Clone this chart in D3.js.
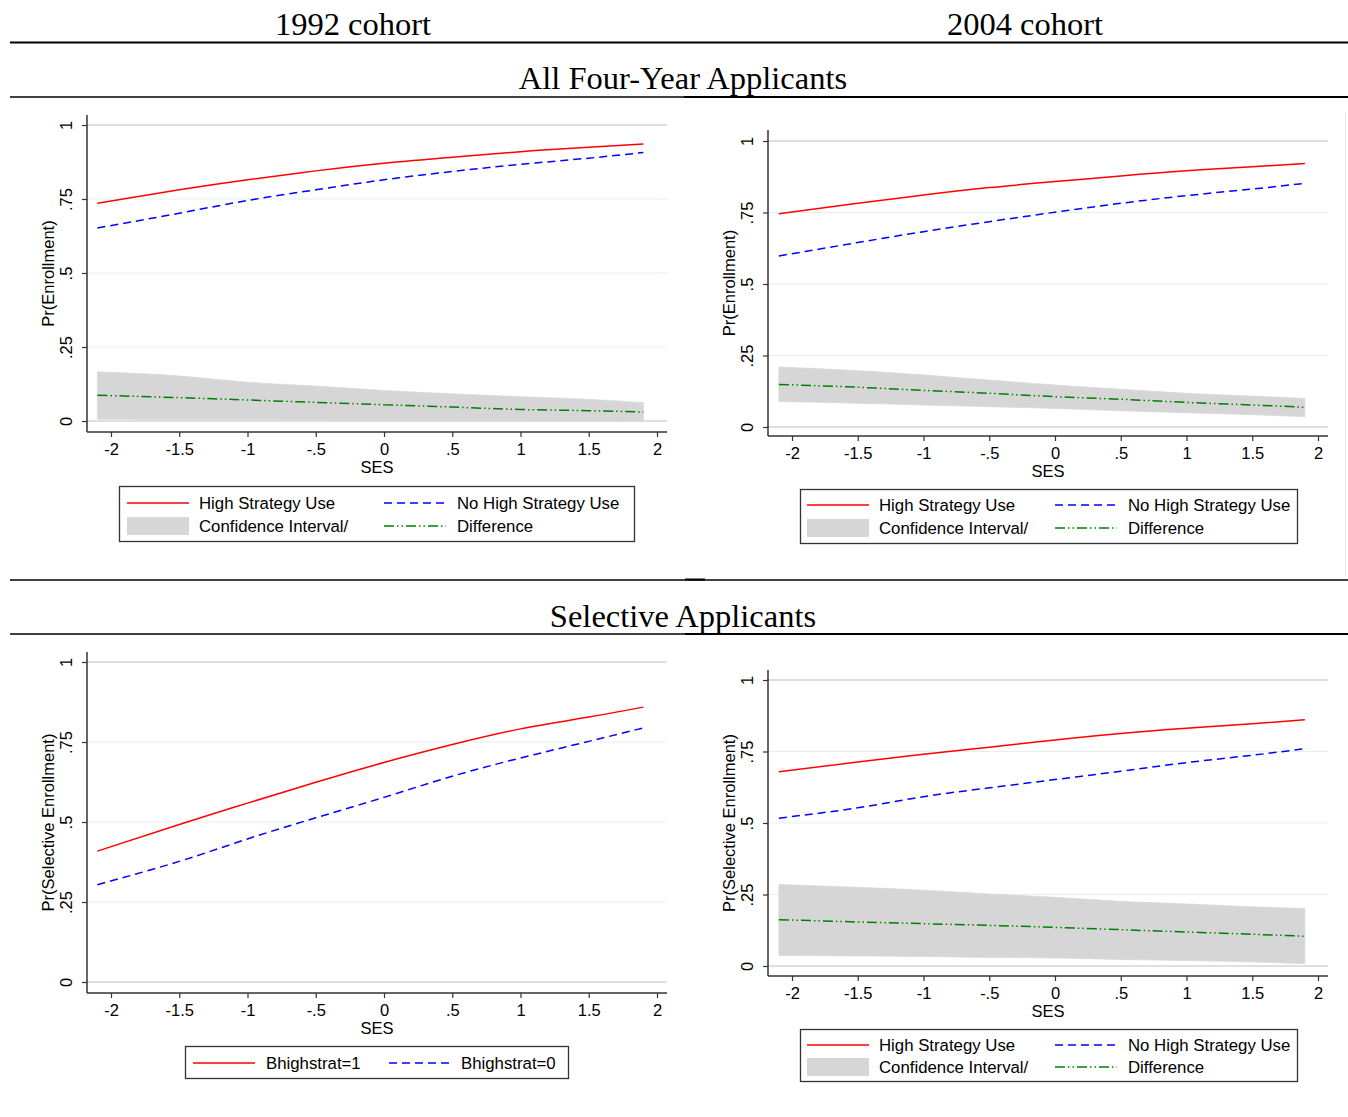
<!DOCTYPE html>
<html>
<head>
<meta charset="utf-8">
<script src="https://cdn.jsdelivr.net/npm/d3@7"></script>
<style>
  body { margin: 0; background: #fff; }
  svg { display: block; }
  text { font-family: "Liberation Sans", Arial, sans-serif; fill: #000; }
  .head { font-family: "Liberation Serif", "Times New Roman", serif; font-size: 32.5px; }
</style>
</head>
<body>
<script>

// SES values at which the predictions are plotted
const ses = [-2.1, -1.5, -1, -0.5, 0, 0.5, 1, 1.5, 1.9];

const xTicks = [-2, -1.5, -1, -0.5, 0, 0.5, 1, 1.5, 2];
const xTickLabels = ["-2", "-1.5", "-1", "-.5", "0", ".5", "1", "1.5", "2"];
const yTicks = [0, 0.25, 0.5, 0.75, 1];
const yTickLabels = ["0", ".25", ".5", ".75", "1"];

// All four-year applicants, 1992 cohort
const all92High = [0.736, 0.781, 0.815, 0.845, 0.871, 0.891, 0.910, 0.925, 0.936];
const all92No   = [0.652, 0.702, 0.745, 0.781, 0.815, 0.843, 0.867, 0.888, 0.907];
const all92Diff = [0.087, 0.079, 0.071, 0.063, 0.055, 0.047, 0.039, 0.035, 0.030];
const all92CiHi = [0.166, 0.152, 0.131, 0.118, 0.103, 0.092, 0.082, 0.073, 0.062];
const all92CiLo = [0.006, 0.005, 0.004, 0.003, 0.002, 0.001, 0.000, -0.001, -0.002];

// All four-year applicants, 2004 cohort
const all04High = [0.746, 0.782, 0.811, 0.837, 0.858, 0.878, 0.896, 0.910, 0.921];
const all04No   = [0.598, 0.645, 0.683, 0.718, 0.751, 0.782, 0.809, 0.832, 0.852];
const all04Diff = [0.149, 0.139, 0.128, 0.118, 0.106, 0.097, 0.086, 0.077, 0.069];
const all04CiHi = [0.210, 0.197, 0.182, 0.164, 0.147, 0.132, 0.118, 0.108, 0.100];
const all04CiLo = [0.089, 0.083, 0.077, 0.071, 0.065, 0.057, 0.050, 0.043, 0.036];

// Selective applicants, 1992 cohort
const sel92High = [0.409, 0.492, 0.559, 0.624, 0.686, 0.742, 0.791, 0.828, 0.859];
const sel92No   = [0.304, 0.377, 0.447, 0.513, 0.577, 0.643, 0.700, 0.752, 0.794];

// Selective applicants, 2004 cohort
const sel04High = [0.679, 0.713, 0.740, 0.765, 0.790, 0.813, 0.831, 0.847, 0.861];
const sel04No   = [0.517, 0.553, 0.592, 0.623, 0.652, 0.681, 0.711, 0.737, 0.760];
const sel04Diff = [0.162, 0.154, 0.148, 0.142, 0.135, 0.127, 0.119, 0.111, 0.104];
const sel04CiHi = [0.285, 0.275, 0.265, 0.252, 0.240, 0.226, 0.217, 0.207, 0.201];
const sel04CiLo = [0.037, 0.035, 0.033, 0.030, 0.028, 0.023, 0.019, 0.014, 0.008];

const fourLegend = ["High Strategy Use", "No High Strategy Use", "Confidence Interval/", "Difference"];
const twoLegend = ["Bhighstrat=1", "Bhighstrat=0"];

const width = 1348;
const height = 1117;

const svg = d3.select("body").append("svg")
  .attr("width", width)
  .attr("height", height);

svg.append("rect").attr("width", width).attr("height", height).attr("fill", "#fff");

const styles = {
  high: { stroke: "#ff0000", dash: null },
  no:   { stroke: "#0000ff", dash: "8,5" },
  diff: { stroke: "#008000", dash: "10,3,1.5,3,1.5,3" }
};

// ---- header rules and titles ----
function rule(x1, x2, y, w) {
  svg.append("line")
    .attr("x1", x1).attr("x2", x2).attr("y1", y).attr("y2", y)
    .attr("stroke", "#000").attr("stroke-width", w);
}

svg.append("text").attr("class", "head").attr("x", 353).attr("y", 35)
  .attr("text-anchor", "middle").text("1992 cohort");
svg.append("text").attr("class", "head").attr("x", 1025).attr("y", 35)
  .attr("text-anchor", "middle").text("2004 cohort");
rule(10, 1348, 42.5, 2);

svg.append("text").attr("class", "head").attr("x", 683).attr("y", 89)
  .attr("text-anchor", "middle").text("All Four-Year Applicants");
rule(10, 684, 97, 1.3);
rule(684, 1348, 97, 2);

rule(10, 1348, 580, 1.3);
rule(685, 705, 579.5, 2);
svg.append("text").attr("class", "head").attr("x", 683).attr("y", 627)
  .attr("text-anchor", "middle").text("Selective Applicants");
rule(10, 685, 634, 1.3);
rule(685, 1348, 634, 2);

// faint edge of the right-hand graph region
svg.append("line")
  .attr("x1", 1345.5).attr("x2", 1345.5).attr("y1", 112).attr("y2", 578)
  .attr("stroke", "#ececec").attr("stroke-width", 1);

// ---- one Stata-like panel ----
function panel(p) {
  const g = svg.append("g");

  const x = d3.scaleLinear().domain([-2, 2]).range([p.xm2, p.xp2]);
  const y = d3.scaleLinear().domain([0, 1]).range([p.y0, p.y1]);

  // gridlines
  g.append("g").selectAll("line")
    .data(yTicks)
    .enter().append("line")
    .attr("x1", p.left).attr("x2", p.right)
    .attr("y1", (d) => y(d)).attr("y2", (d) => y(d))
    .attr("stroke", (d) => (d === 0 || d === 1) ? "#d4d4d4" : "#e8efef")
    .attr("stroke-width", (d) => (d === 0 || d === 1) ? 1.6 : 1.2);

  const rows = ses.map((s, i) => ({ s: s, i: i }));

  if (p.ciHi) {
    const area = d3.area()
      .x((d) => x(d.s))
      .y0((d) => y(p.ciLo[d.i]))
      .y1((d) => y(p.ciHi[d.i]))
      .curve(d3.curveNatural);
    g.append("path")
      .datum(rows)
      .attr("d", area)
      .attr("fill", "#d6d6d6")
      .attr("stroke", "#d9d9d9")
      .attr("stroke-width", 0.8);
  }

  p.series.forEach((sr) => {
    const line = d3.line()
      .x((d) => x(d.s))
      .y((d) => y(sr.values[d.i]))
      .curve(d3.curveNatural);
    g.append("path")
      .datum(rows)
      .attr("d", line)
      .attr("fill", "none")
      .attr("stroke", styles[sr.key].stroke)
      .attr("stroke-width", 1.5)
      .attr("stroke-dasharray", styles[sr.key].dash);
  });

  // x axis
  const xAxis = g.append("g")
    .attr("transform", `translate(0, ${ p.bottom })`)
    .call(d3.axisBottom(x)
      .tickValues(xTicks)
      .tickFormat((d, i) => xTickLabels[i])
      .tickSize(5)
      .tickSizeOuter(0));
  xAxis.select(".domain").remove();
  xAxis.selectAll(".tick line").attr("stroke", "#333").attr("stroke-width", 1.2);
  xAxis.selectAll(".tick text")
    .attr("y", 11)
    .style("font-family", "'Liberation Sans', Arial, sans-serif")
    .style("font-size", "16.5px")
    .attr("fill", "#000");
  g.append("line")
    .attr("x1", p.left).attr("x2", p.right)
    .attr("y1", p.bottom).attr("y2", p.bottom)
    .attr("stroke", "#333").attr("stroke-width", 1.5);

  // y axis
  const yAxis = g.append("g")
    .attr("transform", `translate(${ p.left }, 0)`)
    .call(d3.axisLeft(y)
      .tickValues(yTicks)
      .tickFormat((d, i) => yTickLabels[i])
      .tickSize(5)
      .tickSizeOuter(0));
  yAxis.select(".domain").remove();
  yAxis.selectAll(".tick line").attr("stroke", "#333").attr("stroke-width", 1.2);
  yAxis.selectAll(".tick text")
    .attr("x", 0)
    .attr("y", -15)
    .attr("dy", null)
    .attr("text-anchor", "middle")
    .attr("transform", "rotate(-90)")
    .style("font-family", "'Liberation Sans', Arial, sans-serif")
    .style("font-size", "16.5px")
    .attr("fill", "#000");
  g.append("line")
    .attr("x1", p.left).attr("x2", p.left)
    .attr("y1", p.top).attr("y2", p.bottom)
    .attr("stroke", "#333").attr("stroke-width", 1.5);

  // axis titles
  g.append("text")
    .attr("x", (p.left + p.right) / 2)
    .attr("y", p.bottom + 41)
    .attr("text-anchor", "middle")
    .style("font-size", "16.5px")
    .text("SES");

  g.append("text")
    .attr("transform", `translate(${ p.left - 33 }, ${ (p.top + p.bottom) / 2 }) rotate(-90)`)
    .attr("text-anchor", "middle")
    .style("font-size", "16.5px")
    .text(p.yTitle);

  // legend
  const lg = p.legend;
  g.append("rect")
    .attr("x", lg.x).attr("y", lg.y).attr("width", lg.w).attr("height", lg.h)
    .attr("fill", "#fff").attr("stroke", "#333").attr("stroke-width", 1.3);

  lg.items.forEach((it) => {
    if (it.key === "ci") {
      g.append("rect")
        .attr("x", it.sx).attr("y", it.cy - 9).attr("width", 62).attr("height", 18)
        .attr("fill", "#d6d6d6");
    } else {
      g.append("line")
        .attr("x1", it.sx).attr("x2", it.sx + 62)
        .attr("y1", it.cy).attr("y2", it.cy)
        .attr("stroke", styles[it.key].stroke)
        .attr("stroke-width", 1.5)
        .attr("stroke-dasharray", styles[it.key].dash);
    }
    g.append("text")
      .attr("x", it.tx).attr("y", it.cy + 6)
      .style("font-size", "16.8px")
      .text(it.label);
  });
}

function fourItems(lx, col2, r1, r2) {
  return [
    { key: "high", label: fourLegend[0], sx: lx + 8, tx: lx + 80, cy: r1 },
    { key: "no", label: fourLegend[1], sx: col2, tx: col2 + 73, cy: r1 },
    { key: "ci", label: fourLegend[2], sx: lx + 8, tx: lx + 80, cy: r2 },
    { key: "diff", label: fourLegend[3], sx: col2, tx: col2 + 73, cy: r2 }
  ];
}

panel({
  left: 87, right: 667, top: 115, bottom: 432,
  xm2: 111, xp2: 657, y0: 421, y1: 125,
  yTitle: "Pr(Enrollment)",
  ciHi: all92CiHi, ciLo: all92CiLo,
  series: [
    { key: "diff", values: all92Diff },
    { key: "no", values: all92No },
    { key: "high", values: all92High }
  ],
  legend: { x: 119.5, y: 486.5, w: 515, h: 55, items: fourItems(119, 384, 503, 526) }
});

panel({
  left: 768, right: 1328, top: 130, bottom: 436,
  xm2: 792, xp2: 1318, y0: 427, y1: 141,
  yTitle: "Pr(Enrollment)",
  ciHi: all04CiHi, ciLo: all04CiLo,
  series: [
    { key: "diff", values: all04Diff },
    { key: "no", values: all04No },
    { key: "high", values: all04High }
  ],
  legend: { x: 800.5, y: 489.5, w: 497, h: 54, items: fourItems(799, 1055, 505, 528) }
});

panel({
  left: 87, right: 667, top: 652, bottom: 993,
  xm2: 111, xp2: 657, y0: 982, y1: 662,
  yTitle: "Pr(Selective Enrollment)",
  series: [
    { key: "no", values: sel92No },
    { key: "high", values: sel92High }
  ],
  legend: {
    x: 185.5, y: 1046.5, w: 383, h: 32,
    items: [
      { key: "high", label: twoLegend[0], sx: 193, tx: 266, cy: 1063 },
      { key: "no", label: twoLegend[1], sx: 389, tx: 461, cy: 1063 }
    ]
  }
});

panel({
  left: 768, right: 1328, top: 670, bottom: 976,
  xm2: 792, xp2: 1318, y0: 966, y1: 680,
  yTitle: "Pr(Selective Enrollment)",
  ciHi: sel04CiHi, ciLo: sel04CiLo,
  series: [
    { key: "diff", values: sel04Diff },
    { key: "no", values: sel04No },
    { key: "high", values: sel04High }
  ],
  legend: { x: 800.5, y: 1029.5, w: 497, h: 52, items: fourItems(799, 1055, 1045, 1067) }
});

</script>
</body>
</html>
